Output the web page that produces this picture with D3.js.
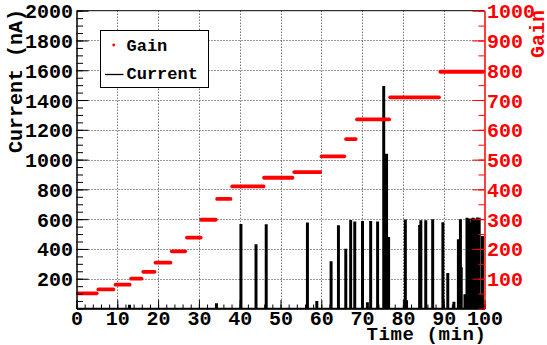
<!DOCTYPE html>
<html>
<head>
<meta charset="utf-8">
<title>Current and Gain vs Time</title>
<style>
  body { margin: 0; background: #fff; }
  text { font-family: "Liberation Mono", "DejaVu Sans Mono", monospace; font-weight: bold; }
</style>
</head>
<body>
<svg id="chart"></svg>
<script src="https://d3js.org/d3.v7.min.js"></script>
<script>
// gain steps (start min, end min, gain)
const gainStart = [0, 5, 9.2, 13, 16, 19, 23, 26.7, 30.2, 34.1, 37.8, 45.6, 53, 59.7, 65.7, 68.4, 76.5, 88.8];
const gainEnd   = [5.3, 9.4, 13.4, 16.3, 19.5, 23.4, 27, 30.8, 34.5, 38.1, 46.2, 53.3, 60.1, 66, 68.8, 77, 89.2, 100];
const gainValue = [51, 64, 80, 100, 123, 154, 192, 238, 298, 368, 410, 439, 458, 511, 569, 635, 709, 795];

// current spikes (min, nA), baseline is 0 between them
const spikeTime    = [13.0, 34.3, 40.3, 44.0, 46.5, 56.6, 58.9, 62.4, 64.2, 66.0, 67.2, 68.2, 70.1, 71.3, 72.1, 73.8, 75.3, 76.0, 76.5,
                      80.6, 80.9, 84.1, 84.4, 85.6, 87.3, 89.8, 91.0, 92.5, 93.6, 94.1, 94.3, 95.2, 95.7, 96.1, 96.5, 96.9, 97.2,
                      97.6, 97.9, 98.3, 98.7, 99.0, 99.5];
const spikeCurrent = [20, 30, 562, 426, 560, 572, 46, 312, 554, 397, 589, 580, 582, 37, 582, 580, 1489, 1035, 475,
                      592, 50, 556, 587, 587, 594, 574, 234, 40, 460, 594, 272, 90, 605, 600, 572, 600, 605,
                      600, 305, 606, 605, 90, 482];

const xTicks = d3.range(0, 101, 10);
const yTicks = d3.range(200, 2001, 200);
const gTicks = d3.range(100, 1001, 100);

const W = 547, H = 345;
const svg = d3.select("#chart").attr("width", W).attr("height", H);

const x = d3.scaleLinear().domain([0, 100]).range([76.5, 484.5]);
const y = d3.scaleLinear().domain([0, 2000]).range([308.5, 10.7]);
const yg = d3.scaleLinear().domain([0, 1000]).range([308.5, 10.7]);
const fmt = d3.format("d");

// grid
const grid = svg.append("g").attr("stroke", "#333").attr("stroke-dasharray", "1,2").attr("stroke-width", 1);
xTicks.filter(d => d > 0 && d < 100).forEach(d => {
  grid.append("line").attr("x1", Math.round(x(d)) + 0.5).attr("x2", Math.round(x(d)) + 0.5)
    .attr("y1", y(2000)).attr("y2", y(0));
});
yTicks.filter(d => d < 2000).forEach(d => {
  grid.append("line").attr("y1", Math.round(y(d)) + 0.5).attr("y2", Math.round(y(d)) + 0.5)
    .attr("x1", x(0)).attr("x2", x(100));
});

// current line
const pts = [[0, 0]];
spikeTime.forEach((t, i) => {
  pts.push([t - 0.18, 0], [t - 0.18, spikeCurrent[i]], [t + 0.18, spikeCurrent[i]], [t + 0.18, 0]);
});
pts.push([100, 0]);
const line = d3.line().x(d => x(d[0])).y(d => y(d[1]));
svg.append("path").datum(pts).attr("d", line)
  .attr("fill", "none").attr("stroke", "#000").attr("stroke-width", 1.5);

// gain steps
svg.append("g").selectAll("line").data(gainValue).join("line")
  .attr("x1", (d, i) => x(gainStart[i]) + 1.5)
  .attr("x2", (d, i) => x(gainEnd[i]) - 1.5)
  .attr("y1", d => yg(d)).attr("y2", d => yg(d))
  .attr("stroke", "#ff0000").attr("stroke-width", 3.8).attr("stroke-linecap", "round");

// axes
function styleAxis(g, color) {
  g.selectAll("path.domain").attr("stroke", color);
  g.selectAll(".tick line").attr("stroke", color);
  g.selectAll("text").attr("fill", color).style("font-size", "20px")
    .style("font-family", "'Liberation Mono', monospace").style("font-weight", "bold");
}

// bottom
svg.append("g").attr("transform", `translate(0,${y(0)})`)
  .call(d3.axisBottom(x).tickValues(d3.range(0, 101, 2)).tickSize(-4).tickFormat(""))
  .call(g => styleAxis(g, "#000"));
svg.append("g").attr("transform", `translate(0,${y(0)})`)
  .call(d3.axisBottom(x).tickValues(xTicks).tickSize(-8.5).tickPadding(2.5).tickSizeOuter(0).tickFormat(fmt))
  .call(g => styleAxis(g, "#000"));

// left
svg.append("g").attr("transform", `translate(${x(0)},0)`)
  .call(d3.axisLeft(y).tickValues(d3.range(50, 2000, 50)).tickSize(-6.5).tickFormat(""))
  .call(g => styleAxis(g, "#000"));
svg.append("g").attr("transform", `translate(${x(0)},0)`)
  .call(d3.axisLeft(y).tickValues(yTicks).tickSize(-12).tickPadding(3.5).tickSizeOuter(0).tickFormat(fmt))
  .call(g => styleAxis(g, "#000"))
  .call(g => g.selectAll("text").attr("dy", "0.35em"));

// top frame line
svg.append("line").attr("x1", x(0)).attr("x2", x(100)).attr("y1", y(2000)).attr("y2", y(2000))
  .attr("stroke", "#000");

// right
svg.append("g").attr("transform", `translate(${x(100)},0)`)
  .call(d3.axisRight(yg).tickValues(d3.range(50, 1000, 50)).tickSize(-6).tickFormat(""))
  .call(g => styleAxis(g, "#ff0000"));
svg.append("g").attr("transform", `translate(${x(100)},0)`)
  .call(d3.axisRight(yg).tickValues(gTicks).tickSize(-12).tickPadding(2.5).tickSizeOuter(0).tickFormat(fmt))
  .call(g => styleAxis(g, "#ff0000"))
  .call(g => g.selectAll("text").attr("dy", "0.35em"));

// titles
svg.append("text").attr("x", 486.5).attr("y", 340).attr("text-anchor", "end")
  .style("font-size", "19px").style("letter-spacing", "0.6px").text("Time (min)");
svg.append("text").attr("transform", "translate(21.5,9) rotate(-90)").attr("text-anchor", "end")
  .style("font-size", "20px").text("Current (nA)");
svg.append("text").attr("transform", "translate(544,10) rotate(-90)").attr("text-anchor", "end")
  .attr("fill", "#ff0000").style("font-size", "20px").text("Gain");

// legend
const lg = svg.append("g");
lg.append("rect").attr("x", 100.5).attr("y", 30.5).attr("width", 108).attr("height", 57)
  .attr("fill", "#fff").attr("stroke", "#000");
lg.append("circle").attr("cx", 113.7).attr("cy", 45).attr("r", 1.4).attr("fill", "#ff0000");
lg.append("text").attr("x", 126.5).attr("y", 51).style("font-size", "17px").text("Gain");
lg.append("line").attr("x1", 105).attr("x2", 123.5).attr("y1", 74.5).attr("y2", 74.5).attr("stroke", "#000").attr("stroke-width", 1.3);
lg.append("text").attr("x", 126.5).attr("y", 79).style("font-size", "17px").text("Current");
</script>
</body>
</html>
